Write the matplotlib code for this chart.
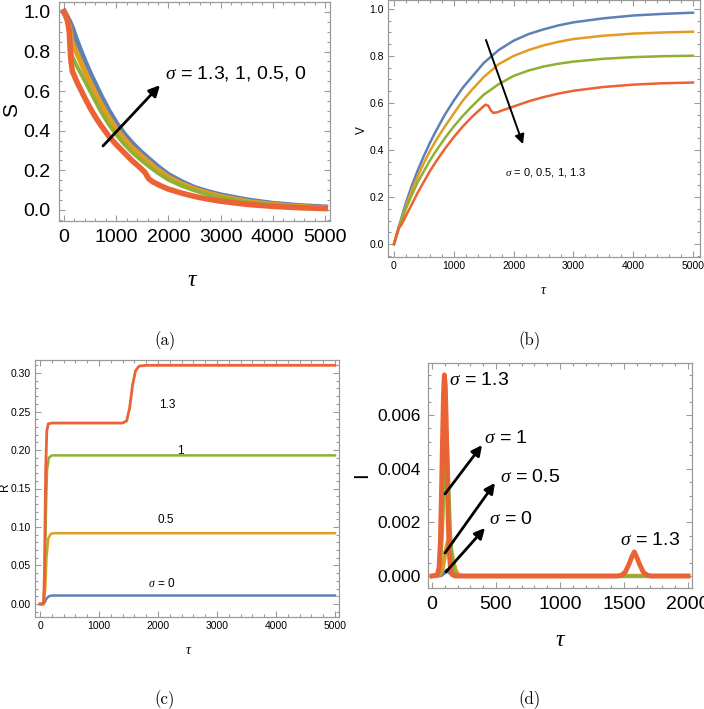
import matplotlib
matplotlib.use("Agg")
import matplotlib.pyplot as plt
from matplotlib.ticker import MultipleLocator

# colours (Mathematica default palette)
C_BLUE = '#5E81B5'
C_ORANGE = '#E19C24'
C_GREEN = '#8FB032'
C_RED = '#EB6235'
FRAME = '#9a9a9a'

# ---------------- data ----------------
# (a) S(tau)
S_T = [0, 100, 150, 200, 300, 400, 500, 600, 700, 850, 1000, 1150, 1300, 1450, 1600, 1800,
       2000, 2250, 2500, 2750, 3000, 3500, 4000, 4500, 5000]
S_SIG0 = [1.0, 0.95, 0.92, 0.88, 0.81, 0.745, 0.685, 0.63, 0.575, 0.50, 0.435, 0.38, 0.335, 0.295, 0.26, 0.215,
          0.175, 0.14, 0.11, 0.09, 0.073, 0.048, 0.03, 0.019, 0.012]
S_SIG05 = [1.0, 0.93, 0.85, 0.82, 0.76, 0.70, 0.645, 0.59, 0.54, 0.47, 0.41, 0.36, 0.315, 0.28, 0.245, 0.202,
           0.165, 0.132, 0.105, 0.085, 0.068, 0.043, 0.027, 0.017, 0.010]
S_SIG1 = [1.0, 0.92, 0.78, 0.75, 0.70, 0.65, 0.60, 0.55, 0.50, 0.435, 0.38, 0.333, 0.292, 0.257, 0.225, 0.186,
          0.152, 0.122, 0.098, 0.078, 0.062, 0.039, 0.025, 0.016, 0.009]
S_T_RED = [0, 60, 100, 130, 160, 250, 400, 500, 600, 700, 850, 1000, 1150, 1300, 1450, 1550, 1620, 1700,
           1850, 2000, 2250, 2500, 2750, 3000, 3500, 4000, 4500, 5000]
S_SIG13 = [1.0, 0.97, 0.90, 0.76, 0.70, 0.645, 0.565, 0.515, 0.47, 0.43, 0.375, 0.33, 0.29, 0.25, 0.215, 0.19,
           0.158, 0.142, 0.122, 0.105, 0.085, 0.068, 0.055, 0.044, 0.028, 0.018, 0.011, 0.007]

# (b) V(tau)
V_T = [0, 50, 100, 150, 200, 300, 400, 500, 600, 700, 850, 1000, 1150, 1300, 1500, 1750,
       2000, 2250, 2500, 2750, 3000, 3500, 4000, 4500, 5000]
V_SIG0 = [0, 0.045, 0.09, 0.133, 0.175, 0.25, 0.315, 0.375, 0.43, 0.48, 0.55, 0.61, 0.665, 0.71, 0.77, 0.825,
          0.865, 0.893, 0.913, 0.93, 0.943, 0.96, 0.972, 0.979, 0.984]
V_SIG05 = [0, 0.043, 0.085, 0.123, 0.16, 0.23, 0.29, 0.345, 0.395, 0.44, 0.50, 0.555, 0.61, 0.655, 0.71, 0.765,
           0.80, 0.825, 0.845, 0.86, 0.872, 0.886, 0.895, 0.90, 0.903]
V_SIG1 = [0, 0.04, 0.08, 0.115, 0.15, 0.21, 0.265, 0.31, 0.355, 0.395, 0.45, 0.50, 0.545, 0.585, 0.635, 0.68,
          0.715, 0.738, 0.755, 0.767, 0.776, 0.788, 0.795, 0.799, 0.801]
V_T_RED = [0, 50, 80, 120, 150, 200, 300, 400, 500, 600, 700, 850, 1000, 1150, 1300, 1450, 1530, 1580, 1620,
           1660, 1720, 1850, 2000, 2250, 2500, 2750, 3000, 3500, 4000, 4500, 5000]
V_SIG13 = [0, 0.045, 0.07, 0.08, 0.095, 0.12, 0.17, 0.22, 0.265, 0.31, 0.35, 0.405, 0.455, 0.50, 0.54, 0.575,
           0.593, 0.588, 0.568, 0.558, 0.56, 0.572, 0.585, 0.607, 0.625, 0.64, 0.652, 0.668, 0.678, 0.684, 0.687]

# (c) R(tau)
R_T_SIG0 = [0, 50, 80, 110, 150, 200, 5000]
R_SIG0 = [0, 0.0, 0.002, 0.007, 0.010, 0.011, 0.011]
R_T_SIG05 = [0, 60, 90, 110, 140, 180, 250, 5000]
R_SIG05 = [0, 0.0, 0.02, 0.06, 0.085, 0.091, 0.092, 0.092]
R_T_SIG1 = [0, 60, 80, 100, 120, 150, 200, 5000]
R_SIG1 = [0, 0.0, 0.03, 0.12, 0.175, 0.19, 0.193, 0.193]
R_T_SIG13 = [0, 60, 75, 95, 115, 140, 200, 1400, 1470, 1520, 1570, 1620, 1680, 1800, 5000]
R_SIG13 = [0, 0.0, 0.04, 0.17, 0.225, 0.234, 0.235, 0.235, 0.238, 0.255, 0.285, 0.303, 0.309, 0.31, 0.31]

# (d) I(tau)
I_T_SIG0 = [0, 70, 95, 115, 135, 160, 190, 220, 2000]
I_SIG0 = [0, 0.00003, 0.00012, 0.0002, 0.00015, 0.00006, 0.00001, 0, 0]
I_T_SIG05 = [0, 60, 85, 105, 125, 145, 165, 185, 210, 240, 2000]
I_SIG05 = [0, 0.00005, 0.0003, 0.0009, 0.0013, 0.0011, 0.0006, 0.0002, 0.00003, 0, 0]
I_T_SIG1 = [0, 50, 65, 80, 92, 102, 112, 120, 130, 142, 155, 172, 200, 2000]
I_SIG1 = [0, 0.00005, 0.0004, 0.0015, 0.0032, 0.0048, 0.0055, 0.005, 0.0035, 0.0018, 0.0007, 0.0002, 0, 0]
I_T_SIG13 = [0, 40, 55, 65, 73, 82, 90, 97, 104, 111, 118, 126, 134, 144, 158, 180,
             1450, 1480, 1510, 1540, 1560, 1580, 1600, 1620, 1650, 1680, 1710, 2000]
I_SIG13 = [0, 0.00002, 0.0003, 0.0012, 0.0028, 0.005, 0.0068, 0.0075, 0.0071, 0.0058, 0.004, 0.0022, 0.001,
           0.0003, 0.00005, 0,
           0, 0.00003, 0.00015, 0.00045, 0.0007, 0.0009, 0.0007, 0.00045, 0.00015, 0.00003, 0, 0]

# ---------------- fonts ----------------
plt.rcParams['font.family'] = ['Liberation Sans', 'DejaVu Sans']
plt.rcParams['mathtext.fontset'] = 'custom'
plt.rcParams['mathtext.it'] = 'Liberation Serif:italic'
plt.rcParams['mathtext.rm'] = 'Liberation Serif'

W, H = 704, 709
fig = plt.figure(figsize=(W / 100, H / 100), dpi=100)


def make_axes(x0, y0, x1, y1):
    # pixel box -> figure fraction
    return fig.add_axes([x0 / W, 1 - y1 / H, (x1 - x0) / W, (y1 - y0) / H])


def style(ax, size, xmaj, xmin, ymaj, ymin, pad):
    for s in ax.spines.values():
        s.set_color(FRAME)
        s.set_linewidth(0.9)
    ax.xaxis.set_major_locator(MultipleLocator(xmaj))
    ax.xaxis.set_minor_locator(MultipleLocator(xmin))
    ax.yaxis.set_major_locator(MultipleLocator(ymaj))
    ax.yaxis.set_minor_locator(MultipleLocator(ymin))
    ax.tick_params(which='both', direction='in', top=True, right=True, color=FRAME, width=0.8)
    ax.tick_params(which='major', length=4, labelsize=size, pad=pad)
    ax.tick_params(which='minor', length=2.2)


def label(x, y, s, size, rot=0):
    fig.text(x / W, 1 - y / H, s, fontsize=size, rotation=rot, ha='center', va='center')


def arrow(ax, tail, head, lw=1.8, ms=14):
    ax.annotate('', xy=head, xytext=tail,
                arrowprops=dict(arrowstyle='-|>', color='black', lw=lw, mutation_scale=ms, shrinkA=0, shrinkB=0))


# ---------------- (a) ----------------
ax = make_axes(59, 2, 330, 221)
ax.plot(S_T, S_SIG0, color=C_BLUE, lw=4.5)
ax.plot(S_T, S_SIG05, color=C_ORANGE, lw=3.8)
ax.plot(S_T, S_SIG1, color=C_GREEN, lw=2.8)
ax.plot(S_T_RED, S_SIG13, color=C_RED, lw=4.0)
ax.set_xlim(-96, 5096)
ax.set_ylim(-0.056, 1.05)
style(ax, 14, 1000, 200, 0.2, 0.05, 6)
ax.yaxis.set_major_formatter(plt.FormatStrFormatter('%.1f'))
arrow(ax, (747, 0.323), (1839, 0.63), lw=2.0, ms=16)
ax.text(1935, 0.69, r'$\sigma$ = 1.3, 1, 0.5, 0', fontsize=14, va='center')
label(12, 110, 'S', 15, 90)
label(193, 280, r'$\tau$', 17)

# ---------------- (b) ----------------
ax = make_axes(388, 0, 700, 257)
ax.plot(V_T, V_SIG0, color=C_BLUE, lw=1.8)
ax.plot(V_T, V_SIG05, color=C_ORANGE, lw=1.8)
ax.plot(V_T, V_SIG1, color=C_GREEN, lw=1.8)
ax.plot(V_T_RED, V_SIG13, color=C_RED, lw=1.8)
ax.set_xlim(-100, 5117)
ax.set_ylim(-0.055, 1.038)
style(ax, 7.5, 1000, 200, 0.2, 0.05, 3)
ax.yaxis.set_major_formatter(plt.FormatStrFormatter('%.1f'))
arrow(ax, (1538, 0.868), (2157, 0.425), lw=1.4, ms=14)
ax.text(1856, 0.306, r'$\sigma$ = 0, 0.5, 1, 1.3', fontsize=8, va='center')
label(362, 130, 'V', 8.5, 90)
label(544, 290, r'$\tau$', 10)

# ---------------- (c) ----------------
ax = make_axes(35, 360, 339, 617)
ax.plot(R_T_SIG0, R_SIG0, color=C_BLUE, lw=1.8)
ax.plot(R_T_SIG05, R_SIG05, color=C_ORANGE, lw=1.8)
ax.plot(R_T_SIG1, R_SIG1, color=C_GREEN, lw=1.8)
ax.plot(R_T_SIG13, R_SIG13, color=C_RED, lw=2.0)
ax.set_xlim(-85, 5068)
ax.set_ylim(-0.0169, 0.3169)
style(ax, 7.5, 1000, 200, 0.05, 0.01, 3)
ax.yaxis.set_major_formatter(plt.FormatStrFormatter('%.2f'))
ax.text(2152, 0.258, '1.3', fontsize=8.5, ha='center', va='center')
ax.text(2373, 0.199, '1', fontsize=8.5, ha='center', va='center')
ax.text(2135, 0.109, '0.5', fontsize=8.5, ha='center', va='center')
ax.text(2068, 0.027, r'$\sigma$ = 0', fontsize=8.5, ha='center', va='center')
label(5, 487, 'R', 8.5, 90)
label(189, 650, r'$\tau$', 10)

# ---------------- (d) ----------------
ax = make_axes(428, 363, 692, 588)
ax.plot(I_T_SIG0, I_SIG0, color=C_BLUE, lw=3.0)
ax.plot(I_T_SIG05, I_SIG05, color=C_ORANGE, lw=3.0)
ax.plot(I_T_SIG1, I_SIG1, color=C_GREEN, lw=2.5)
ax.plot(I_T_SIG13, I_SIG13, color=C_RED, lw=3.5)
ax.set_xlim(-31, 2031)
ax.set_ylim(-0.000447, 0.00794)
style(ax, 14, 500, 100, 0.002, 0.0005, 6)
ax.tick_params(axis='y', labelsize=12.5, pad=5)
ax.yaxis.set_major_formatter(plt.FormatStrFormatter('%.3f'))
arrow(ax, (102, 0.00306), (391, 0.00488), lw=2.0, ms=15)
arrow(ax, (102, 0.00086), (492, 0.00347), lw=2.0, ms=15)
arrow(ax, (109, 0.00015), (414, 0.00179), lw=2.0, ms=15)
ax.text(133, 0.0073, r'$\sigma$ = 1.3', fontsize=14, va='center')
ax.text(406, 0.00514, r'$\sigma$ = 1', fontsize=14, va='center')
ax.text(531, 0.00369, r'$\sigma$ = 0.5', fontsize=14, va='center')
ax.text(445, 0.00209, r'$\sigma$ = 0', fontsize=14, va='center')
ax.text(1703, 0.00134, r'$\sigma$ = 1.3', fontsize=14, ha='center', va='center')
label(362, 475, 'I', 15, 90)
label(561, 640, r'$\tau$', 17)

# ---------------- captions ----------------
for x, y, s in [(165, 341, '(a)'), (530, 341, '(b)'), (165, 700, '(c)'), (530, 700, '(d)')]:
    fig.text(x / W, 1 - y / H, s, fontsize=12, fontfamily='cmr10', ha='center', va='center')

fig.savefig('out.png', dpi=100)
